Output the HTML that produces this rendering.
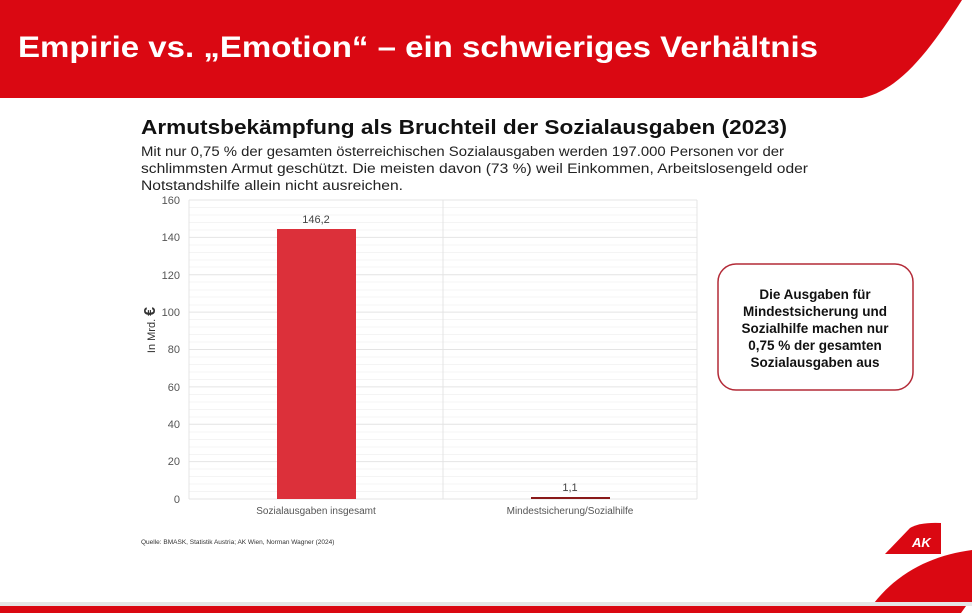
<!DOCTYPE html>
<html><head><meta charset="utf-8"><style>
html,body{margin:0;padding:0;background:#fff;}
svg{display:block;font-family:"Liberation Sans",sans-serif;}
</style></head><body>
<svg width="972" height="613" viewBox="0 0 972 613" xmlns="http://www.w3.org/2000/svg">
<path d="M0 0 H962 C930 50 900 90 862 98 H0 Z" fill="#da0812"/>
<text x="18" y="57" font-size="30" font-weight="bold" fill="#fff" textLength="800" lengthAdjust="spacingAndGlyphs">Empirie vs. „Emotion“ – ein schwieriges Verhältnis</text>
<text x="141" y="134" font-size="20.5" font-weight="bold" fill="#111" textLength="646" lengthAdjust="spacingAndGlyphs">Armutsbekämpfung als Bruchteil der Sozialausgaben (2023)</text>
<g font-size="14.2" fill="#222">
<text x="141" y="156" textLength="643" lengthAdjust="spacingAndGlyphs">Mit nur 0,75 % der gesamten österreichischen Sozialausgaben werden 197.000 Personen vor der</text>
<text x="141" y="173" textLength="667" lengthAdjust="spacingAndGlyphs">schlimmsten Armut geschützt. Die meisten davon (73 %) weil Einkommen, Arbeitslosengeld oder</text>
<text x="141" y="190" textLength="262" lengthAdjust="spacingAndGlyphs">Notstandshilfe allein nicht ausreichen.</text>
</g>
<g stroke="#f4f4f4" stroke-width="1">
<line x1="189" x2="697" y1="207.5" y2="207.5"/><line x1="189" x2="697" y1="215" y2="215"/><line x1="189" x2="697" y1="222.5" y2="222.5"/><line x1="189" x2="697" y1="230" y2="230"/>
<line x1="189" x2="697" y1="245" y2="245"/><line x1="189" x2="697" y1="252.5" y2="252.5"/><line x1="189" x2="697" y1="260" y2="260"/><line x1="189" x2="697" y1="267" y2="267"/>
<line x1="189" x2="697" y1="282" y2="282"/><line x1="189" x2="697" y1="290" y2="290"/><line x1="189" x2="697" y1="297" y2="297"/><line x1="189" x2="697" y1="305" y2="305"/>
<line x1="189" x2="697" y1="319.5" y2="319.5"/><line x1="189" x2="697" y1="327" y2="327"/><line x1="189" x2="697" y1="334.5" y2="334.5"/><line x1="189" x2="697" y1="342" y2="342"/>
<line x1="189" x2="697" y1="357" y2="357"/><line x1="189" x2="697" y1="364.5" y2="364.5"/><line x1="189" x2="697" y1="372" y2="372"/><line x1="189" x2="697" y1="379.5" y2="379.5"/>
<line x1="189" x2="697" y1="394.5" y2="394.5"/><line x1="189" x2="697" y1="402" y2="402"/><line x1="189" x2="697" y1="409.5" y2="409.5"/><line x1="189" x2="697" y1="417" y2="417"/>
<line x1="189" x2="697" y1="432" y2="432"/><line x1="189" x2="697" y1="439.5" y2="439.5"/><line x1="189" x2="697" y1="447" y2="447"/><line x1="189" x2="697" y1="454.5" y2="454.5"/>
<line x1="189" x2="697" y1="469" y2="469"/><line x1="189" x2="697" y1="476.5" y2="476.5"/><line x1="189" x2="697" y1="484" y2="484"/><line x1="189" x2="697" y1="491.5" y2="491.5"/>
</g>
<g stroke="#e4e4e4" stroke-width="1">
<line x1="189" x2="697" y1="200" y2="200"/><line x1="189" x2="697" y1="237.4" y2="237.4"/><line x1="189" x2="697" y1="274.8" y2="274.8"/><line x1="189" x2="697" y1="312.1" y2="312.1"/><line x1="189" x2="697" y1="349.5" y2="349.5"/><line x1="189" x2="697" y1="386.9" y2="386.9"/><line x1="189" x2="697" y1="424.3" y2="424.3"/><line x1="189" x2="697" y1="461.6" y2="461.6"/><line x1="189" x2="697" y1="499" y2="499"/>
<line x1="189" x2="189" y1="200" y2="499"/><line x1="443" x2="443" y1="200" y2="499"/><line x1="697" x2="697" y1="200" y2="499"/>
</g>
<g font-size="11" fill="#555" text-anchor="end">
<text x="180" y="204">160</text><text x="180" y="241">140</text><text x="180" y="279">120</text><text x="180" y="316">100</text><text x="180" y="353">80</text><text x="180" y="391">60</text><text x="180" y="428">40</text><text x="180" y="465">20</text><text x="180" y="503">0</text>
</g>
<text transform="translate(155,330) rotate(-90)" font-size="11" fill="#333" text-anchor="middle">In Mrd. <tspan font-size="16" font-weight="bold">€</tspan></text>
<rect x="277" y="229" width="79" height="270" fill="#dc303a"/>
<rect x="531" y="497" width="79" height="2" fill="#8a1a1a"/>
<text x="316" y="223" font-size="11" fill="#444" text-anchor="middle">146,2</text>
<text x="570" y="491" font-size="11" fill="#444" text-anchor="middle">1,1</text>
<text x="316" y="514" font-size="10" fill="#555" text-anchor="middle">Sozialausgaben insgesamt</text>
<text x="570" y="514" font-size="10" fill="#555" text-anchor="middle">Mindestsicherung/Sozialhilfe</text>
<rect x="718" y="264" width="195" height="126" rx="18" fill="#fff" stroke="#b32a37" stroke-width="1.5"/>
<g font-size="13.5" font-weight="bold" fill="#111" text-anchor="middle">
<text x="815" y="299">Die Ausgaben für</text><text x="815" y="316">Mindestsicherung und</text><text x="815" y="333">Sozialhilfe machen nur</text><text x="815" y="350">0,75 % der gesamten</text><text x="815" y="367">Sozialausgaben aus</text>
</g>
<text x="141" y="544" font-size="6.5" fill="#333">Quelle: BMASK, Statistik Austria; AK Wien, Norman Wagner (2024)</text>
<path d="M885 554 L910 528 Q920 522 941 523 V554 Z" fill="#da0812"/>
<text x="912" y="547" font-size="13" font-weight="bold" font-style="italic" fill="#fff">AK</text>
<path d="M874 603 C900 570 935 555 972 550 V603 Z" fill="#da0812"/>
<rect x="0" y="602" width="972" height="4" fill="#e5e5e5"/>
<path d="M0 606 H966 L961 613 H0 Z" fill="#da0812"/>
</svg>
</body></html>
